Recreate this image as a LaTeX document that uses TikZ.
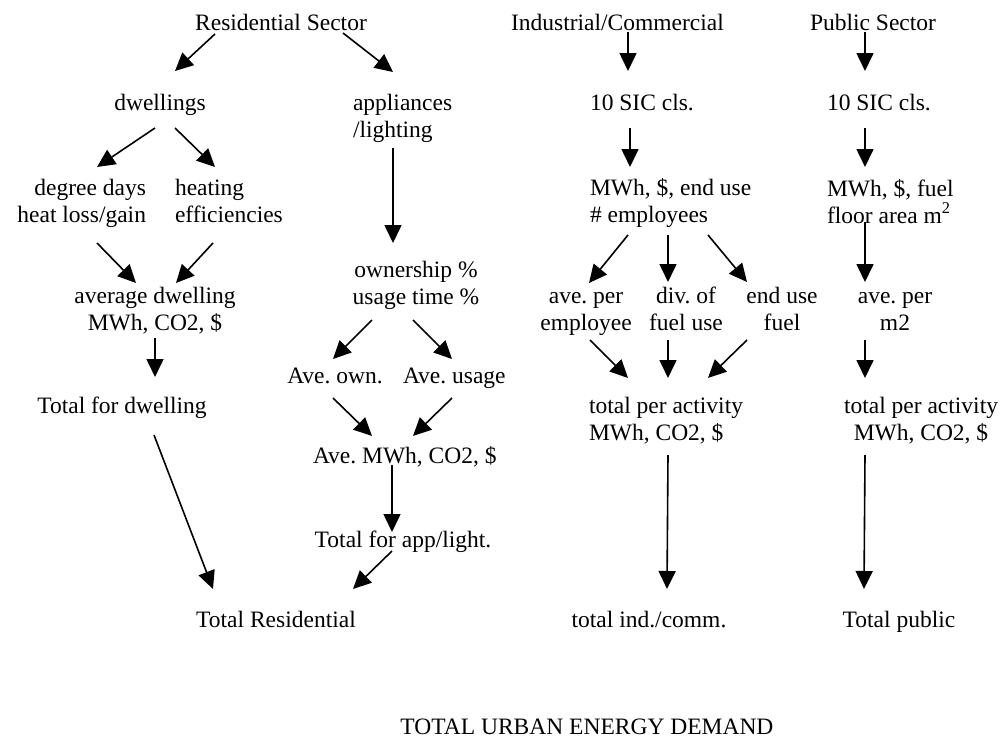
\documentclass[tikz,border=0pt]{standalone}
\usepackage{fontspec}
\setmainfont{Liberation Serif}
\usetikzlibrary{arrows.meta}
\frenchspacing
\begin{document}
\begin{tikzpicture}[x=1pt,y=-1pt,
  lbl/.style={inner sep=0pt,outer sep=0pt,font=\fontsize{23.5}{27}\selectfont},
  lc/.style={lbl,anchor=base,align=center},
  ll/.style={lbl,anchor=base west,align=left},
  lr/.style={lbl,anchor=base east,align=right},
  arr/.style={line width=1.6pt,-{Triangle[length=18pt,width=17pt]}}]
\fill[white] (0,0) rectangle (1004,739);
\useasboundingbox (0,0) rectangle (1004,739);

% sector headings
\node[lc] (res) at (281,30) {Residential Sector};
\node[lc] (ind) at (617.5,30) {Industrial/Commercial};
\node[lc] (pub) at (873,30) {Public Sector};

% residential branch (two-line labels are placed by their last baseline)
\node[lc] (dw) at (160,110) {dwellings};
\node[ll] (app) at (353,137) {appliances\\/lighting};
\node[lr] (dd) at (146,222) {degree days\\heat loss/gain};
\node[ll] (heat) at (175,222) {heating\\efficiencies};
\node[lc] (avgdw) at (155,330) {average dwelling\\MWh, CO2, \$};
\node[lc] (own) at (416,304) {ownership \%\\usage time \%};
\node[lc] (aveown) at (335,383) {Ave. own.};
\node[ll] (aveuse) at (403,383) {Ave. usage};
\node[lc] (totdw) at (122,413) {Total for dwelling};
\node[ll] (avemwh) at (313,463) {Ave. MWh, CO2, \$};
\node[lc] (totapp) at (403,547) {Total for app/light.};
\node[lc] (totres) at (276,627) {Total Residential};

% industrial / commercial branch
\node[ll] (sic1) at (590,110) {10 SIC cls.};
\node[ll] (mwh1) at (590,222) {MWh, \$, end use\\\# employees};
\node[lc] (aveemp) at (586,330) {ave. per\\employee};
\node[lc] (div) at (686,330) {div. of\\fuel use};
\node[lc] (enduse) at (782,330) {end use\\fuel};
\node[ll] (totact1) at (589,440) {total per activity\\MWh, CO2, \$};
\node[lc] (totind) at (649,627) {total ind./comm.};

% public sector branch
\node[ll] (sic2) at (827,110) {10 SIC cls.};
\node[ll] (mwh2) at (827,223) {MWh, \$, fuel\\floor area m\textsuperscript{2}};
\node[lc] (aveper) at (895,330) {ave. per\\m2};
\node[lc] (totact2) at (921,440) {total per activity\\MWh, CO2, \$};
\node[lc] (totpub) at (899,627) {Total public};

\node[lc] (total) at (587,734) {TOTAL URBAN ENERGY DEMAND};

% connectors: residential
\draw[arr] ([shift={(-66,4)}]res.base) -- ([shift={(15,-39)}]dw.base);
\draw[arr] ([shift={(62,3)}]res.base) -- ([shift={(40,-65)}]app.base west);
\draw[arr] ([shift={(40,11)}]app.base west) -- ([shift={(-23,-61)}]own.base);
\draw[arr] ([shift={(-5,18)}]dw.base) -- ([shift={(-49,-55)}]dd.base east);
\draw[arr] ([shift={(15,18)}]dw.base) -- ([shift={(40,-55)}]heat.base west);
\draw[arr] ([shift={(-49,21)}]dd.base east) -- ([shift={(-19,-47)}]avgdw.base);
\draw[arr] ([shift={(38,21)}]heat.base west) -- ([shift={(21,-47)}]avgdw.base);
\draw[arr] ([shift={(0,8)}]avgdw.base) -- ([shift={(33,-36)}]totdw.base);
\draw[arr] ([shift={(32,22)}]totdw.base) -- ([shift={(-63,-38)}]totres.base);
\draw[arr] ([shift={(-44,16)}]own.base) -- ([shift={(-2,-24)}]aveown.base);
\draw[arr] ([shift={(-3,16)}]own.base) -- ([shift={(49,-24)}]aveuse.base west);
\draw[arr] ([shift={(-2,15)}]aveown.base) -- ([shift={(59,-27)}]avemwh.base west);
\draw[arr] ([shift={(49,15)}]aveuse.base west) -- ([shift={(100,-27)}]avemwh.base west);
\draw[arr] ([shift={(79,2)}]avemwh.base west) -- ([shift={(-11,-15)}]totapp.base);
\draw[arr] ([shift={(-11,4)}]totapp.base) -- ([shift={(77,-38)}]totres.base);

% connectors: industrial / commercial
\draw[arr] ([shift={(10.5,2)}]ind.base) -- ([shift={(38,-39)}]sic1.base west);
\draw[arr] ([shift={(40,18)}]sic1.base west) -- ([shift={(40,-55)}]mwh1.base west);
\draw[arr] ([shift={(38,13)}]mwh1.base west) -- ([shift={(3,-47)}]aveemp.base);
\draw[arr] ([shift={(78,13)}]mwh1.base west) -- ([shift={(-18,-48)}]div.base);
\draw[arr] ([shift={(118,13)}]mwh1.base west) -- ([shift={(-35,-48)}]enduse.base);
\draw[arr] ([shift={(4,10)}]aveemp.base) -- ([shift={(39,-62)}]totact1.base west);
\draw[arr] ([shift={(-18,10)}]div.base) -- ([shift={(79,-62)}]totact1.base west);
\draw[arr] ([shift={(-35,10)}]enduse.base) -- ([shift={(119,-62)}]totact1.base west);
\draw[arr] ([shift={(79,15)}]totact1.base west) -- ([shift={(18,-38)}]totind.base);

% connectors: public sector
\draw[arr] ([shift={(-8,2)}]pub.base) -- ([shift={(38,-39)}]sic2.base west);
\draw[arr] ([shift={(38,18)}]sic2.base west) -- ([shift={(38,-56)}]mwh2.base west);
\draw[arr] ([shift={(38,-1)}]mwh2.base west) -- ([shift={(-30,-48)}]aveper.base);
\draw[arr] ([shift={(-30,10)}]aveper.base) -- ([shift={(-56,-62)}]totact2.base);
\draw[arr] ([shift={(-56,15)}]totact2.base) -- ([shift={(-35,-38)}]totpub.base);
\end{tikzpicture}
\end{document}
